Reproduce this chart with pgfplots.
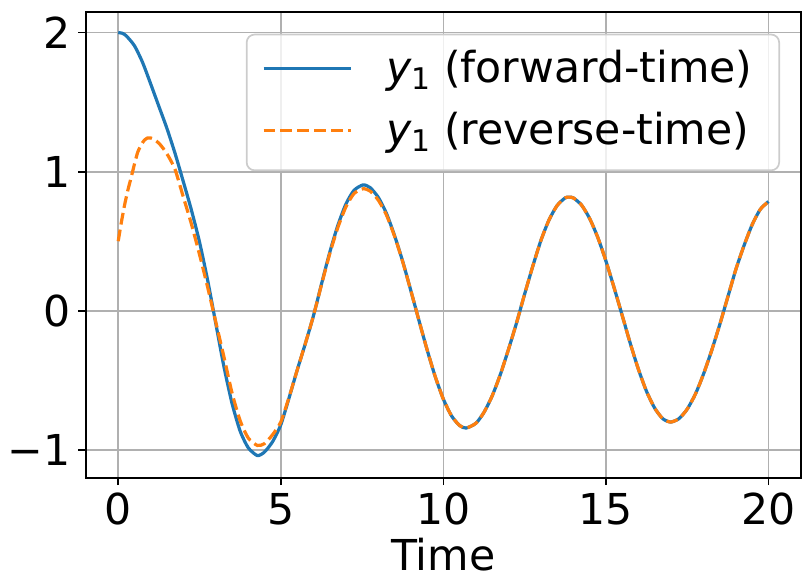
\documentclass[border=0pt]{standalone}
\usepackage{fontspec}
\setmainfont{DejaVu Sans}
\usepackage{pgfplots}
\pgfplotsset{compat=1.18}
\definecolor{mplblue}{HTML}{1F77B4}
\definecolor{mplorange}{HTML}{FF7F0E}
\definecolor{gridgray}{HTML}{B0B0B0}
\definecolor{legedge}{HTML}{CCCCCC}
\newcommand{\fs}{\fontsize{21.3bp}{25bp}\selectfont}
\newcommand{\yone}{{\itshape y}\raisebox{-3.5bp}{\fontsize{14.9bp}{16bp}\selectfont 1}}
\begin{document}
\begin{tikzpicture}
\useasboundingbox (-42.85bp,-50.65bp) rectangle (358.15bp,238.85bp);
\begin{axis}[
  at={(0,0)}, anchor=south west, scale only axis,
  width=357.65bp, height=233bp,
  xmin=-1, xmax=21, ymin=-1.2, ymax=2.15,
  xtick={0,5,10,15,20}, xticklabels={0,5,10,15,20},
  ytick={-1,0,1,2}, yticklabels={−1,0,1,2},
  tick align=outside, tick pos=left,
  major tick length=3.73bp,
  every tick/.append style={black, line width=0.85bp},
  axis line style={line width=0.85bp, black},
  grid=major, major grid style={gridgray, line width=0.85bp},
  ticklabel style={font=\fs, inner sep=0pt},
  xticklabel style={anchor=base, yshift=-19.6bp},
  yticklabel style={anchor=east, xshift=-3.73bp},
  xlabel={Time},
  xlabel style={font=\fs, inner sep=0pt, anchor=base, at={(axis description cs:0.5,0)}, yshift=-46.15bp},
  legend cell align=left,
  legend style={at={(1,1)}, anchor=north east, xshift=-10.5bp, yshift=-11bp,
    draw=legedge, line width=0.85bp, rounded corners=4bp,
    fill=white, fill opacity=0.8, draw opacity=1, text opacity=1,
    font=\fs, inner xsep=7.65bp, inner ysep=7.7bp, row sep=9.5bp, column sep=17.2bp,
    nodes={inner sep=0pt, text height=16.2bp, text depth=5.3bp}},
  legend image code/.code={\draw[#1, draw opacity=1] (0bp,1.4bp) -- (43.5bp,1.4bp);},
]
\addplot[mplblue, line width=1.6bp, smooth, tension=0.4] table[row sep=\\] {
t y\\
0 2.000\\ 0.125 1.995\\ 0.25 1.976\\ 0.5 1.905\\ 0.75 1.785\\ 1.0 1.630\\ 1.25 1.470\\ 1.5 1.310\\ 1.75 1.130\\
2.0 0.930\\ 2.25 0.725\\ 2.5 0.495\\ 2.75 0.220\\ 3.0 -0.090\\ 3.25 -0.400\\ 3.5 -0.665\\ 3.75 -0.865\\
4.0 -0.985\\ 4.28 -1.041\\ 4.5 -1.015\\ 4.75 -0.940\\ 5.0 -0.820\\ 5.25 -0.630\\ 5.5 -0.430\\ 5.75 -0.240\\
6.0 -0.040\\ 6.25 0.190\\ 6.5 0.415\\ 6.75 0.610\\ 7.0 0.766\\ 7.25 0.865\\ 7.53 0.905\\ 7.75 0.885\\
8.0 0.815\\ 8.25 0.700\\ 8.5 0.540\\ 8.75 0.355\\ 9.0 0.145\\ 9.25 -0.070\\ 9.5 -0.280\\ 9.75 -0.473\\
10.0 -0.635\\ 10.25 -0.755\\ 10.5 -0.825\\ 10.7 -0.843\\ 11.0 -0.809\\ 11.25 -0.730\\ 11.5 -0.613\\ 11.75 -0.460\\
12.0 -0.280\\ 12.25 -0.088\\ 12.5 0.120\\ 12.75 0.320\\ 13.0 0.505\\ 13.25 0.653\\ 13.5 0.757\\ 13.75 0.812\\
13.87 0.817\\ 14.0 0.811\\ 14.25 0.760\\ 14.5 0.663\\ 14.75 0.527\\ 15.0 0.358\\ 15.25 0.167\\ 15.5 -0.033\\
15.75 -0.235\\ 16.0 -0.421\\ 16.25 -0.580\\ 16.5 -0.700\\ 16.75 -0.776\\ 16.99 -0.800\\ 17.25 -0.775\\ 17.5 -0.707\\
17.75 -0.600\\ 18.0 -0.456\\ 18.25 -0.287\\ 18.5 -0.100\\ 18.75 0.100\\ 19.0 0.300\\ 19.25 0.470\\ 19.5 0.620\\
19.75 0.730\\ 20.0 0.785\\
};
\addlegendentry{\yone\ (forward-time)\rule{5.7bp}{0pt}}
\addplot[mplorange, line width=1.6bp, dash pattern=on 5.9bp off 2.56bp, smooth, tension=0.4] table[row sep=\\] {
t y\\
0 0.500\\ 0.1 0.640\\ 0.2 0.765\\ 0.3 0.870\\ 0.4 0.960\\ 0.5 1.055\\ 0.6 1.140\\ 0.7 1.190\\
0.8 1.225\\ 0.9 1.242\\ 1.0 1.242\\ 1.1 1.232\\ 1.25 1.205\\ 1.4 1.162\\ 1.55 1.108\\ 1.75 1.015\\
2.0 0.820\\ 2.25 0.625\\ 2.5 0.405\\ 2.75 0.170\\ 3.0 -0.080\\ 3.25 -0.330\\ 3.5 -0.590\\ 3.75 -0.790\\
4.0 -0.915\\ 4.28 -0.968\\ 4.5 -0.955\\ 4.75 -0.890\\ 5.0 -0.800\\ 5.25 -0.625\\ 5.5 -0.430\\ 5.75 -0.240\\
6.0 -0.040\\ 6.25 0.185\\ 6.5 0.405\\ 6.75 0.595\\ 7.0 0.745\\ 7.25 0.842\\ 7.53 0.877\\ 7.75 0.860\\
8.0 0.795\\ 8.25 0.688\\ 8.5 0.535\\ 8.75 0.352\\ 9.0 0.145\\ 9.25 -0.070\\ 9.5 -0.280\\ 9.75 -0.473\\
10.0 -0.635\\ 10.25 -0.755\\ 10.5 -0.825\\ 10.7 -0.843\\ 11.0 -0.809\\ 11.25 -0.730\\ 11.5 -0.613\\ 11.75 -0.460\\
12.0 -0.280\\ 12.25 -0.088\\ 12.5 0.120\\ 12.75 0.320\\ 13.0 0.505\\ 13.25 0.653\\ 13.5 0.757\\ 13.75 0.812\\
13.87 0.817\\ 14.0 0.811\\ 14.25 0.760\\ 14.5 0.663\\ 14.75 0.527\\ 15.0 0.358\\ 15.25 0.167\\ 15.5 -0.033\\
15.75 -0.235\\ 16.0 -0.421\\ 16.25 -0.580\\ 16.5 -0.700\\ 16.75 -0.776\\ 16.99 -0.800\\ 17.25 -0.775\\ 17.5 -0.707\\
17.75 -0.600\\ 18.0 -0.456\\ 18.25 -0.287\\ 18.5 -0.100\\ 18.75 0.100\\ 19.0 0.300\\ 19.25 0.470\\ 19.5 0.620\\
19.75 0.730\\ 20.0 0.785\\
};
\addlegendentry{\yone\ (reverse-time)}
\end{axis}
\end{tikzpicture}
\end{document}
